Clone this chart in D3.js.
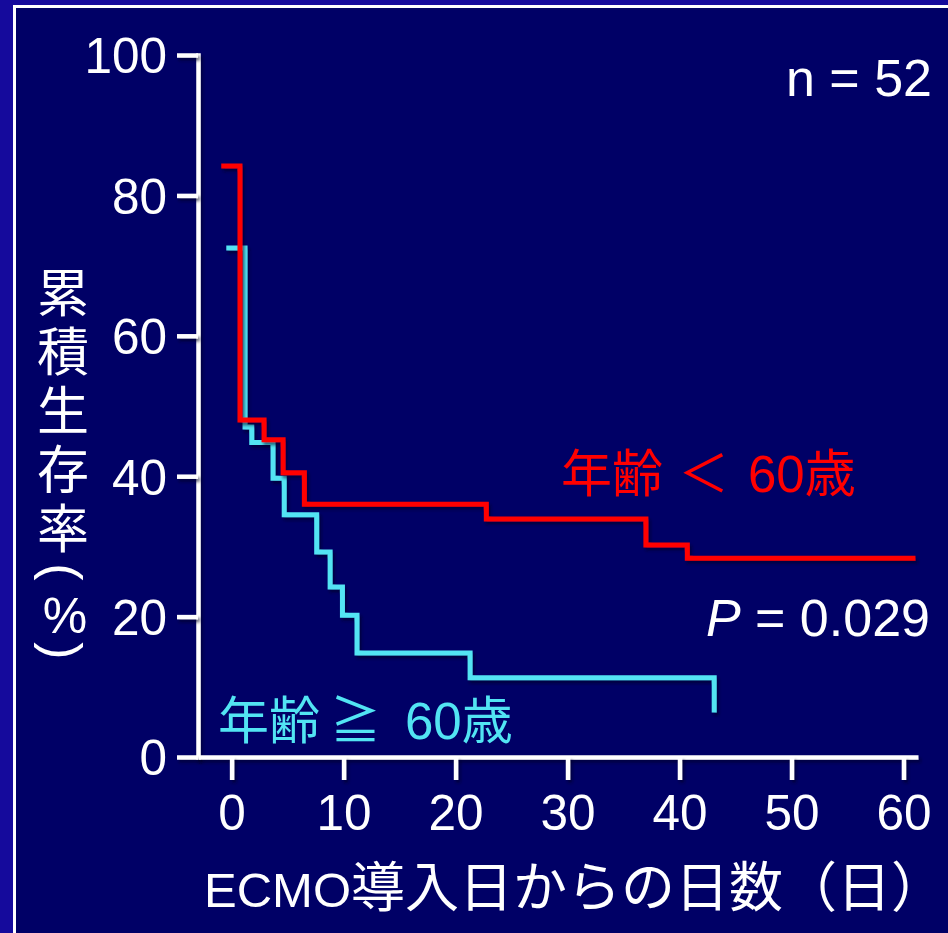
<!DOCTYPE html>
<html>
<head>
<meta charset="utf-8">
<script src="https://cdn.jsdelivr.net/npm/d3@7"></script>
<style>
  html, body { margin: 0; padding: 0; background: #150a9c; }
  svg { display: block; }
  text { font-family: "Liberation Sans", Arial, "Noto Sans CJK JP", sans-serif; fill: #ffffff; }
</style>
</head>
<body>
<svg id="chart" width="948" height="933"></svg>
<script>
// Kaplan–Meier survival by age group (days since ECMO start)
const youngTimes = [-0.7, 0.75, 2.9, 4.6, 6.5, 22.75, 37.0, 40.7, 60.85];
const youngSurv  = [84.2, 48.0, 45.2, 40.5, 36.0, 33.9, 30.2, 28.3, 28.3];
const oldTimes   = [-0.25, 1.2, 1.8, 3.7, 4.7, 7.6, 8.8, 9.9, 11.2, 21.3, 43.1];
const oldSurv    = [72.5, 47.0, 44.8, 39.7, 34.5, 29.2, 24.2, 20.2, 14.8, 11.3, 6.7];

const xTicks = [0, 10, 20, 30, 40, 50, 60];
const yTicks = [0, 20, 40, 60, 80, 100];

const yTitleMain = "累積生存率";
const xTitleLatin = "ECMO";
const xTitleJa = "導入日からの日数（日）";
const youngLabel = ["年齢", "＜", "60歳"];
const oldLabel = ["年齢", "≧", "60歳"];
const nLabel = "n = 52";
const pValue = "0.029";

const RED = "#ff0000";
const CYAN = "#52e4f3";
const NAVY = "#000066";

const svg = d3.select("#chart");

// drop shadow used under lines (user space so flat lines keep it)
const defs = svg.append("defs");
const f = defs.append("filter").attr("id", "shadow").attr("filterUnits", "userSpaceOnUse")
  .attr("x", -1000).attr("y", -1000).attr("width", 3000).attr("height", 3000);
f.append("feDropShadow").attr("dx", 2).attr("dy", 3).attr("stdDeviation", 1.5)
  .attr("flood-color", "#000020").attr("flood-opacity", 0.55);

// panel
svg.append("rect").attr("x", 0).attr("y", 0).attr("width", 948).attr("height", 933).attr("fill", "#150a9c");
svg.append("rect").attr("x", 14.5).attr("y", 6.5).attr("width", 1000).attr("height", 1000)
  .attr("fill", NAVY).attr("stroke", "#ffffff").attr("stroke-width", 3);

const x = d3.scaleLinear().domain([-3, 61.3]).range([198, 918]);
const y = d3.scaleLinear().domain([0, 100]).range([757, 55]);

// y axis
const yAxis = svg.append("g").attr("transform", `translate(${x(-3)},0)`)
  .call(d3.axisLeft(y).tickValues(yTicks).tickSize(21).tickSizeOuter(0).tickPadding(10));
yAxis.select(".domain").attr("stroke", "#fff").attr("stroke-width", 4.5)
  .attr("stroke-linecap", "square").attr("filter", "url(#shadow)");
yAxis.selectAll(".tick line").attr("stroke", "#fff").attr("stroke-width", 4.5).attr("filter", "url(#shadow)");
yAxis.selectAll(".tick text").attr("fill", "#fff").style("font-size", "49.5px")
  .attr("font-family", null).attr("dy", "0.36em");

// x axis
const xAxis = svg.append("g").attr("transform", `translate(0,${y(0)})`)
  .call(d3.axisBottom(x).tickValues(xTicks).tickSize(23).tickSizeOuter(0).tickPadding(15));
xAxis.select(".domain").attr("stroke", "#fff").attr("stroke-width", 4.5).attr("filter", "url(#shadow)");
xAxis.selectAll(".tick line").attr("stroke", "#fff").attr("stroke-width", 4.5).attr("filter", "url(#shadow)");
xAxis.selectAll(".tick text").attr("fill", "#fff").style("font-size", "49.5px")
  .attr("font-family", null);

// survival curves
const line = d3.line().x(d => x(d[0])).y(d => y(d[1])).curve(d3.curveStepAfter);
const youngPts = youngTimes.map((t, i) => [t, youngSurv[i]]);
const oldPts = oldTimes.map((t, i) => [t, oldSurv[i]]);
const lastOld = oldPts[oldPts.length - 1];
oldPts.push([lastOld[0], lastOld[1]]);

svg.append("path").attr("d", line(oldPts)).attr("fill", "none").attr("stroke", CYAN)
  .attr("stroke-width", 5).attr("stroke-linejoin", "miter").attr("stroke-linecap", "square")
  .attr("filter", "url(#shadow)");
svg.append("path").attr("d", line(youngPts)).attr("fill", "none").attr("stroke", RED)
  .attr("stroke-width", 5).attr("stroke-linejoin", "miter").attr("stroke-linecap", "square")
  .attr("filter", "url(#shadow)");

// y axis title, set vertically
svg.append("text").attr("x", 63).attr("y", 266)
  .style("writing-mode", "vertical-rl").style("font-size", "52px")
  .style("letter-spacing", "7px").style("font-family", "'Noto Sans CJK JP', sans-serif")
  .text(yTitleMain);
svg.append("text").attr("transform", "translate(63,572) rotate(90)")
  .attr("text-anchor", "middle").attr("dominant-baseline", "central")
  .style("font-size", "52px").text("(");
svg.append("text").attr("x", 65).attr("y", 633)
  .attr("text-anchor", "middle")
  .style("font-size", "50px").text("%");
svg.append("text").attr("transform", "translate(63,651) rotate(90)")
  .attr("text-anchor", "middle").attr("dominant-baseline", "central")
  .style("font-size", "52px").text(")");

// x axis title: Latin part and Japanese part
const xt = svg.append("text").attr("x", 204).attr("y", 907);
xt.append("tspan").style("font-size", "49px").text(xTitleLatin);
xt.append("tspan").style("font-size", "54px").style("font-family", "'Noto Sans CJK JP', sans-serif").text(xTitleJa);

// group labels
function groupLabel(parts, xs, yBase, color) {
  const t = svg.append("text").attr("y", yBase).style("font-size", "51px").attr("fill", color);
  parts.forEach((p, i) => t.append("tspan").attr("x", xs[i]).text(p).attr("fill", color));
}
groupLabel(youngLabel, [561, 678, 748], 492, RED);
groupLabel(oldLabel, [218, 330, 405], 739, CYAN);

// sample size and p value
svg.append("text").attr("x", 932).attr("y", 96).attr("text-anchor", "end")
  .style("font-size", "52px").text(nLabel);
const pt = svg.append("text").attr("x", 930).attr("y", 636).attr("text-anchor", "end").style("font-size", "52px");
pt.append("tspan").style("font-style", "italic").text("P");
pt.append("tspan").text(" = " + pValue);
</script>
</body>
</html>
